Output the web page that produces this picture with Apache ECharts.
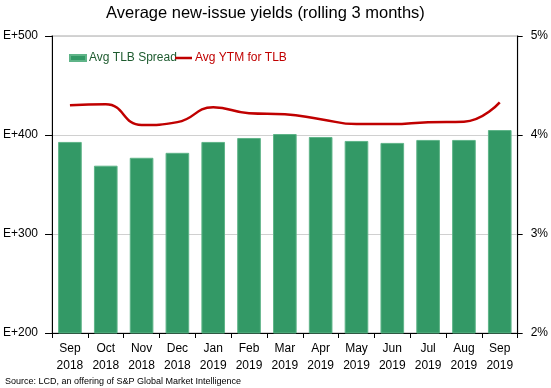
<!DOCTYPE html>
<html>
<head>
<meta charset="utf-8">
<script src="https://cdn.jsdelivr.net/npm/echarts@6/dist/echarts.min.js"></script>
<style>html,body{margin:0;padding:0;background:#fff}#c{width:551px;height:388px}</style>
</head>
<body>
<div id="c"></div>
<script>
const categories = ['Sep\n2018','Oct\n2018','Nov\n2018','Dec\n2018','Jan\n2019','Feb\n2019','Mar\n2019','Apr\n2019','May\n2019','Jun\n2019','Jul\n2019','Aug\n2019','Sep\n2019'];
const spread = [393, 369, 377, 382, 393, 397, 401, 398, 394, 392, 395, 395, 405];
const ytm = [4.30, 4.31, 4.10, 4.13, 4.28, 4.22, 4.21, 4.16, 4.11, 4.11, 4.13, 4.135, 4.33];
const leftTicks = {200:'E+200',300:'E+300',400:'E+400',500:'E+500'};

const chart = echarts.init(document.getElementById('c'), null, {renderer:'canvas'});
const font = 'Liberation Sans, Arial, sans-serif';
chart.setOption({
  animation:false,
  backgroundColor:'#fff',
  title:{text:'Average new-issue yields (rolling 3 months)', left:101, top:0,
    textStyle:{fontFamily:font, fontSize:16.5, fontWeight:'normal', color:'#000'}},
  graphic:[{type:'text', left:5, top:377, style:{text:'Source: LCD, an offering of S&P Global Market Intelligence', font:'9px '+font, fill:'#000'}}],
  legend:[
   {left:64, top:47, itemGap:8, itemWidth:16, itemHeight:6,
    textStyle:{fontFamily:font, fontSize:12, color:'#1E5B2F', padding:[0,0,0,-2]},
    data:[{name:'Avg TLB Spread', icon:'rect'}]},
   {left:170, top:47, itemGap:8, itemWidth:17, itemHeight:2.5,
    textStyle:{fontFamily:font, fontSize:12, color:'#C00000', padding:[0,0,0,-2]},
    data:[{name:'Avg YTM for TLB', icon:'rect'}]}],
  grid:{left:48, right:29, top:36, bottom:55, show:true, borderColor:'#d4d4d4', borderWidth:2},
  xAxis:{type:'category', data:categories,
    axisLine:{lineStyle:{color:'#000'}},
    axisTick:{show:true, length:5, lineStyle:{color:'#000'}},
    axisLabel:{interval:0, fontFamily:font, fontSize:12, color:'#000', lineHeight:17, margin:7}},
  yAxis:[{type:'value', min:200, max:500, interval:100,
    axisLine:{show:true, lineStyle:{color:'#000'}},
    axisTick:{show:true, length:7, lineStyle:{color:'#000'}},
    splitLine:{lineStyle:{color:'#d0d0d0'}},
    axisLabel:{fontFamily:font, fontSize:12, color:'#000', margin:14, formatter:v=>leftTicks[v]||''}},
   {type:'value', min:2, max:5, interval:1, position:'right',
    axisLine:{show:true, lineStyle:{color:'#000'}},
    axisTick:{show:true, length:5, lineStyle:{color:'#000'}},
    splitLine:{show:false},
    axisLabel:{fontFamily:font, fontSize:12, color:'#000', margin:13, formatter:v=>v+'%'}}],
  series:[
    {name:'Avg TLB Spread', type:'bar', data:spread, barWidth:'66%',
     itemStyle:{color:'#339966', borderColor:'#5fb488', borderWidth:1}},
    {name:'Avg YTM for TLB', type:'line', yAxisIndex:1, data:ytm, smooth:0.5,
     symbol:'none', itemStyle:{color:'#C00000'}, lineStyle:{color:'#C00000', width:2.5}}
  ]
});
</script>
</body>
</html>
